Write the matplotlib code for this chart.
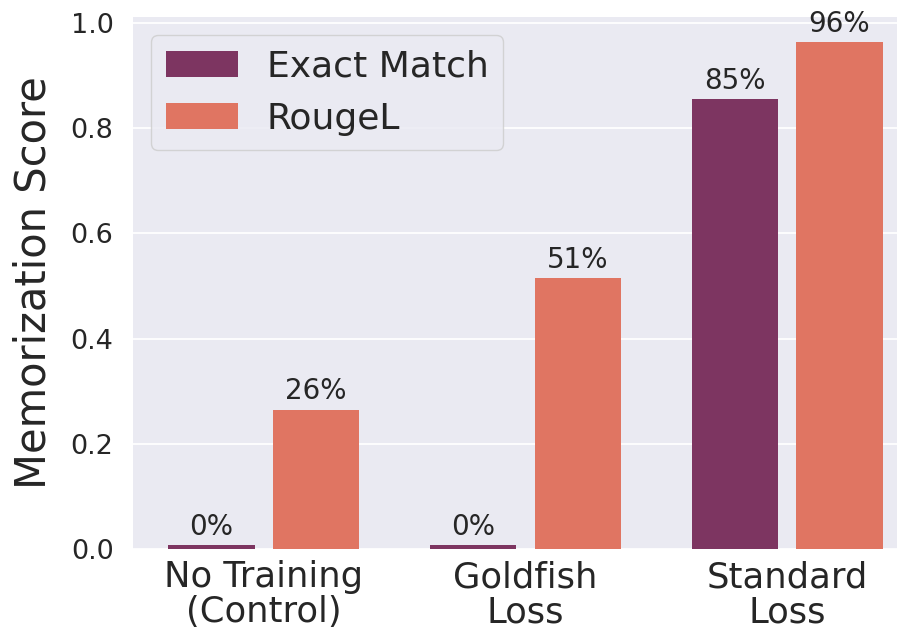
import matplotlib
matplotlib.use("Agg")
import matplotlib.pyplot as plt
import numpy as np

categories = ["No Training\n(Control)", "Goldfish\nLoss", "Standard\nLoss"]
series_names = ["Exact Match", "RougeL"]
exact_match = [0.007, 0.007, 0.855]
rougel = [0.265, 0.515, 0.963]
label_exact = ["0%", "0%", "85%"]
label_rouge = ["26%", "51%", "96%"]
yticks = [0.0, 0.2, 0.4, 0.6, 0.8, 1.0]

colors = ["#7D3561", "#E07562"]
bg = "#EAEAF2"
txt = "#262626"

W, H = 897, 637
fig = plt.figure(figsize=(W / 100, H / 100), dpi=100)
fig.patch.set_facecolor("white")
ax = fig.add_axes([133 / W, (H - 549) / H, (918 - 133) / W, (549 - 17) / H])
ax.set_facecolor(bg)
for s in ax.spines.values():
    s.set_visible(False)

x = np.arange(len(categories))
bw = 0.33
off = 0.2
b1 = ax.bar(x - off, exact_match, bw, color=colors[0], label=series_names[0], zorder=2)
b2 = ax.bar(x + off, rougel, bw, color=colors[1], label=series_names[1], zorder=2)

ax.bar_label(b1, labels=label_exact, padding=3, fontsize=20, color=txt)
ax.bar_label(b2, labels=label_rouge, padding=3, fontsize=20, color=txt)

ax.set_xlim(-0.5, 2.5)
ax.set_ylim(0, max(rougel) * 1.05)
ax.set_yticks(yticks)
ax.set_yticklabels([f"{t:.1f}" for t in yticks])
ax.set_xticks(x)
ax.set_xticklabels(categories, fontsize=25.5, color=txt, linespacing=1.05)
ax.tick_params(axis="y", labelsize=19.5, labelcolor=txt, length=0, pad=14)
ax.tick_params(axis="x", length=0, pad=8)
ax.yaxis.grid(True, color="white", linewidth=1.3, zorder=0)
ax.xaxis.grid(False)
ax.set_axisbelow(True)

ax.set_ylabel("Memorization Score", fontsize=30, color=txt, labelpad=12)

leg = ax.legend(loc="upper left", fontsize=26, frameon=True, fancybox=True,
                borderaxespad=0.5)
leg.get_frame().set_facecolor(bg)
leg.get_frame().set_edgecolor("#CCCCCC")
leg.get_frame().set_alpha(0.8)
for t in leg.get_texts():
    t.set_color(txt)

fig.savefig("out.png", dpi=100)
